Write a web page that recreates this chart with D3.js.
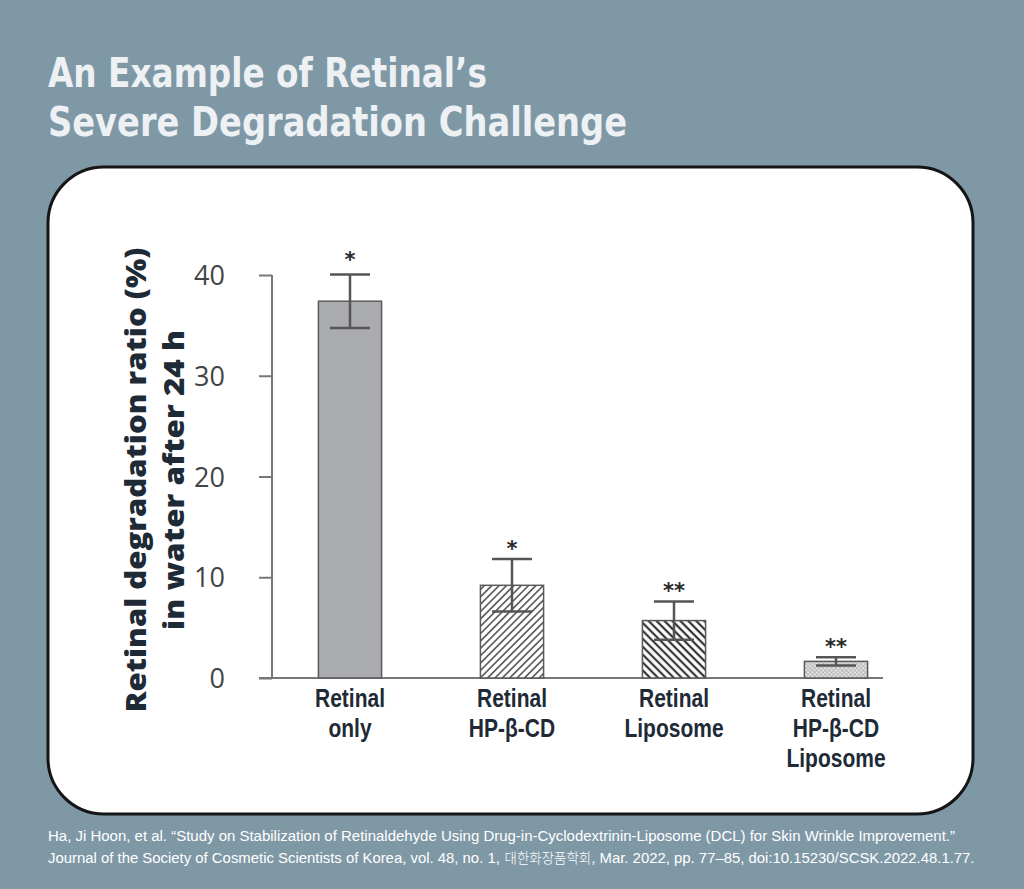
<!DOCTYPE html>
<html>
<head>
<meta charset="utf-8">
<script src="https://cdn.jsdelivr.net/npm/d3@7"></script>
<style>
  html, body { margin: 0; padding: 0; background: #7f98a6; }
  svg { display: block; }
</style>
</head>
<body>
<svg id="chart" width="1024" height="889"></svg>
<script>
// ---- data ----
const categories = [
  ["Retinal", "only"],
  ["Retinal", "HP-β-CD"],
  ["Retinal", "Liposome"],
  ["Retinal", "HP-β-CD", "Liposome"]
];
const means = [37.4, 9.2, 5.7, 1.65];
const errors = [2.65, 2.6, 1.9, 0.4];
const significance = ["*", "*", "**", "**"];
const yTicks = [0, 10, 20, 30, 40];
const titleLines = ["An Example of Retinal’s", "Severe Degradation Challenge"];
const yTitleLines = ["Retinal degradation ratio (%)", "in water after 24 h"];
const footerLine1 = "Ha, Ji Hoon, et al. “Study on Stabilization of Retinaldehyde Using Drug-in-Cyclodextrinin-Liposome (DCL) for Skin Wrinkle Improvement.”";
const footerLine2 = ["Journal of the Society of Cosmetic Scientists of Korea, vol. 48, no. 1, ", "대한화장품학회", ", Mar. 2022, pp. 77–85, doi:10.15230/SCSK.2022.48.1.77."];

// ---- drawing ----
const svg = d3.select("#chart");
const W = 1024, H = 889;

svg.append("rect").attr("width", W).attr("height", H).attr("fill", "#7f98a6");

// title
svg.append("g").selectAll("text").data(titleLines).join("text")
  .attr("x", 48).attr("y", (d, i) => 87 + i * 49)
  .attr("fill", "#eef1f4")
  .style("font-family", "'DejaVu Sans Condensed', 'DejaVu Sans', sans-serif")
  .style("font-stretch", "condensed")
  .style("font-weight", "bold")
  .style("font-size", "41px")
  .attr("textLength", (d, i) => [439, 579][i])
  .attr("lengthAdjust", "spacingAndGlyphs")
  .text(d => d);

// card
svg.append("rect")
  .attr("x", 48).attr("y", 167).attr("width", 925).attr("height", 647)
  .attr("rx", 56).attr("ry", 56)
  .attr("fill", "#ffffff").attr("stroke", "#151515").attr("stroke-width", 3);

// patterns
const defs = svg.append("defs");
function hatch(id, size, angle, color, sw, bg) {
  const p = defs.append("pattern").attr("id", id)
    .attr("patternUnits", "userSpaceOnUse")
    .attr("width", size).attr("height", size)
    .attr("patternTransform", `rotate(${angle})`);
  p.append("rect").attr("width", size).attr("height", size).attr("fill", bg);
  p.append("line").attr("x1", size / 2).attr("y1", 0).attr("x2", size / 2).attr("y2", size)
    .attr("stroke", color).attr("stroke-width", sw);
}
hatch("hatchA", 5.2, 45, "#555", 1.6, "#fff");
hatch("hatchB", 5.6, -45, "#333", 2.2, "#fff");
const pc = defs.append("pattern").attr("id", "cross")
  .attr("patternUnits", "userSpaceOnUse").attr("width", 3).attr("height", 3)
  .attr("patternTransform", "rotate(45)");
pc.append("rect").attr("width", 3).attr("height", 3).attr("fill", "#e6e6e6");
pc.append("line").attr("x1", 0).attr("y1", 1.5).attr("x2", 3).attr("y2", 1.5).attr("stroke", "#aaa").attr("stroke-width", 0.7);
pc.append("line").attr("x1", 1.5).attr("y1", 0).attr("x2", 1.5).attr("y2", 3).attr("stroke", "#aaa").attr("stroke-width", 0.7);
const fills = ["#aaabae", "url(#hatchA)", "url(#hatchB)", "url(#cross)"];

// scales
const x = d3.scaleBand().domain(d3.range(categories.length))
  .range([269, 917]).paddingInner(0.61).paddingOuter(0.305);
const y = d3.scaleLinear().domain([0, 40]).range([678, 275]);

// y axis
const yAxis = svg.append("g").attr("transform", "translate(272,0)")
  .call(d3.axisLeft(y).tickValues(yTicks).tickSize(13).tickPadding(34).tickFormat(d3.format("d")));
yAxis.select(".domain").remove();
yAxis.append("line").attr("x1", 0).attr("x2", 0).attr("y1", y(40)).attr("y2", y(0))
  .attr("stroke", "#777").attr("stroke-width", 2);
yAxis.selectAll(".tick line").attr("stroke", "#777").attr("stroke-width", 2);
yAxis.selectAll(".tick text")
  .attr("fill", "#444")
  .style("font-family", "'Open Sans', sans-serif")
  .style("font-size", "27px")
  .attr("dy", "0.36em");

// x axis baseline
svg.append("line").attr("x1", 259).attr("x2", 883).attr("y1", y(0)).attr("y2", y(0))
  .attr("stroke", "#777").attr("stroke-width", 2);

// bars
svg.append("g").selectAll("rect").data(means).join("rect")
  .attr("x", (d, i) => x(i)).attr("width", x.bandwidth())
  .attr("y", d => y(d)).attr("height", d => y(0) - y(d))
  .attr("fill", (d, i) => fills[i])
  .attr("stroke", "#5a5a5a").attr("stroke-width", 1.5);

// error bars
const eb = svg.append("g").attr("stroke", "#555").attr("stroke-width", 2.5);
means.forEach((m, i) => {
  const cx = x(i) + x.bandwidth() / 2;
  const hi = y(m + errors[i]), lo = y(m - errors[i]);
  eb.append("line").attr("x1", cx).attr("x2", cx).attr("y1", hi).attr("y2", lo);
  eb.append("line").attr("x1", cx - 20).attr("x2", cx + 20).attr("y1", hi).attr("y2", hi);
  eb.append("line").attr("x1", cx - 20).attr("x2", cx + 20).attr("y1", lo).attr("y2", lo);
});

// significance stars
svg.append("g").selectAll("text").data(significance).join("text")
  .attr("x", (d, i) => x(i) + x.bandwidth() / 2)
  .attr("y", (d, i) => y(means[i] + errors[i]) - 3 - (i === 0 ? 4 : 0))
  .attr("text-anchor", "middle")
  .attr("fill", "#2a2a2a")
  .style("font-family", "'DejaVu Sans', sans-serif")
  .style("font-weight", "bold")
  .style("font-size", "21px")
  .text(d => d);

// category labels
const lab = svg.append("g").selectAll("text").data(categories).join("text")
  .attr("transform", (d, i) => `translate(${x(i) + x.bandwidth() / 2},707) scale(0.84,1)`)
  .attr("text-anchor", "middle")
  .attr("fill", "#1e2a36")
  .style("font-family", "'Liberation Sans', sans-serif")
  .style("font-weight", "bold")
  .style("font-size", "25px");
lab.selectAll("tspan").data(d => d).join("tspan")
  .attr("x", 0).attr("y", (d, j) => j * 30)
  .text(d => d);

// y title
svg.append("g").selectAll("text").data(yTitleLines).join("text")
  .attr("transform", (d, i) => `translate(${[146, 184][i]},480) rotate(-90)`)
  .attr("text-anchor", "middle")
  .attr("fill", "#1e2a36")
  .style("font-family", "'Open Sans', sans-serif")
  .style("font-weight", "800")
  .style("font-size", "29px")
  .attr("textLength", (d, i) => [465, 300][i])
  .attr("lengthAdjust", "spacingAndGlyphs")
  .text(d => d);

// footer
const footStyle = sel => sel.attr("fill", "#ffffff")
  .style("font-family", "'Liberation Sans', sans-serif")
  .style("font-size", "15.5px")
  .style("white-space", "pre");
svg.append("text").call(footStyle).attr("x", 48).attr("y", 841)
  .attr("textLength", 907).attr("lengthAdjust", "spacingAndGlyphs")
  .text(footerLine1);
const f2 = svg.append("g");
const parts = f2.selectAll("text").data(footerLine2).join("text").call(footStyle)
  .attr("y", 0)
  .style("font-family", (d, i) => i === 1 ? "'Noto Sans CJK KR', sans-serif" : "'Liberation Sans', sans-serif")
  .style("font-weight", (d, i) => i === 1 ? 300 : 400)
  .style("font-size", (d, i) => i === 1 ? "14px" : "15.5px")
  .text(d => d);
let acc = 0;
parts.each(function () {
  d3.select(this).attr("x", acc);
  acc += this.getComputedTextLength();
});
f2.attr("transform", `translate(48,863) scale(${927 / acc},1)`);
</script>
</body>
</html>
